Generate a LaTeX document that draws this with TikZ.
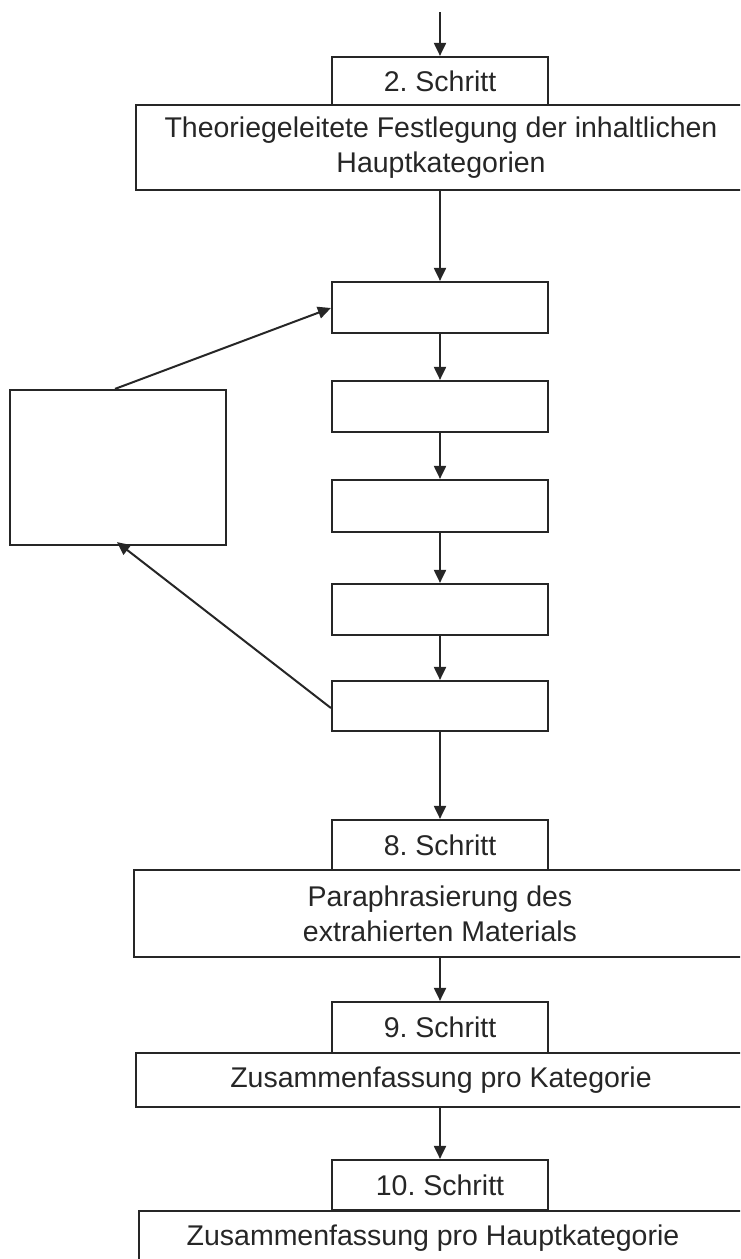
\documentclass[tikz,border=0pt]{standalone}
\usepackage{fontspec}
\setmainfont{Liberation Sans}
\frenchspacing
\usetikzlibrary{arrows.meta}
\definecolor{txt}{HTML}{262626}
\begin{document}
\begin{tikzpicture}[x=1pt,y=-1pt,
  box/.style={draw=black!85, line width=2.2pt, inner sep=0pt, text=txt,
    font=\fontsize{28.5}{35}\selectfont, align=center},
  arr/.style={draw=black!85, line width=2pt, -{Triangle[length=13pt,width=12pt]}},
  ]
\useasboundingbox (0,0) rectangle (740,1259);
\begin{scope}
\clip (0,0) rectangle (740,1259);
% main column
\node[box, minimum width=216pt, minimum height=48pt] (s2) at (440,81) {2. Schritt};
\node[box, minimum width=610pt, minimum height=85pt] (b1) at (441,147.5) {Theoriegeleitete Festlegung der inhaltlichen\\Hauptkategorien};
\node[box, minimum width=216pt, minimum height=51pt] (r1) at (440,307.5) {};
\node[box, minimum width=216pt, minimum height=51pt] (r2) at (440,406.5) {};
\node[box, minimum width=216pt, minimum height=52pt] (r3) at (440,506) {};
\node[box, minimum width=216pt, minimum height=51pt] (r4) at (440,609.5) {};
\node[box, minimum width=216pt, minimum height=50pt] (r5) at (440,706) {};
\node[box, minimum width=216pt, minimum height=155pt] (L) at (118,467.5) {};
\node[box, minimum width=216pt, minimum height=50pt] (s8) at (440,845) {8. Schritt};
\node[box, minimum width=612pt, minimum height=87pt] (b2) at (440,913.5) {Paraphrasierung des\\extrahierten Materials};
\node[box, minimum width=216pt, minimum height=51pt] (s9) at (440,1027.5) {9. Schritt};
\node[box, minimum width=610pt, minimum height=54pt] (b3) at (441,1080) {Zusammenfassung pro Kategorie};
\node[box, minimum width=216pt, minimum height=50pt] (s10) at (440,1185) {10. Schritt};
\node[box, minimum width=608pt, minimum height=60pt, anchor=north west] (b4) at (138,1210) {};
\node[text=txt, font=\fontsize{28.5}{35}\selectfont] (b4t) at (433,1238) {Zusammenfassung pro Hauptkategorie};
\coordinate (top) at (440,12);
% connectors
\draw[arr] (top) -- (s2.north);
\draw[arr] (b1.south -| s2.south) -- (r1.north);
\draw[arr] (r1) -- (r2);
\draw[arr] (r2) -- (r3);
\draw[arr] (r3) -- (r4);
\draw[arr] (r4) -- (r5);
\draw[arr] (r5) -- (s8);
\draw[arr] (b2.south -| s8.south) -- (s9.north);
\draw[arr] (b3.south -| s9.south) -- (s10.north);
\draw[arr] ([xshift=-3pt]L.north) -- ([yshift=-0.5pt]r1.west);
\draw[arr] ([yshift=-2pt]r5.west) -- ([xshift=-1pt,yshift=4pt]L.south);
\end{scope}
\end{tikzpicture}
\end{document}
